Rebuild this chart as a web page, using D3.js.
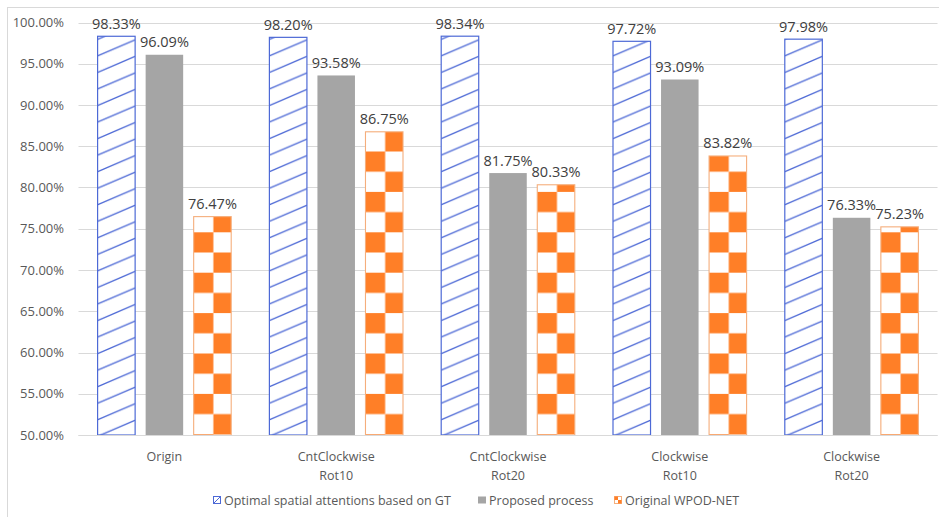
<!DOCTYPE html>
<html>
<head>
<meta charset="utf-8">
<script src="https://cdn.jsdelivr.net/npm/d3@7"></script>
<style>
  html, body { margin: 0; padding: 0; background: #fff; }
  svg { display: block; font-family: "Open Sans", "Noto Sans", sans-serif; }
</style>
</head>
<body>
<svg id="chart" width="939" height="517"></svg>
<script>
// Categories (two-line axis labels) and series
const categories = [
  ["Origin"],
  ["CntClockwise", "Rot10"],
  ["CntClockwise", "Rot20"],
  ["Clockwise", "Rot10"],
  ["Clockwise", "Rot20"]
];
const seriesNames = [
  "Optimal spatial attentions based on GT",
  "Proposed process",
  "Original WPOD-NET"
];
const optimalGT = [0.9833, 0.9820, 0.9834, 0.9772, 0.9798];
const proposed  = [0.9609, 0.9358, 0.8175, 0.9309, 0.7633];
const wpodNet   = [0.7647, 0.8675, 0.8033, 0.8382, 0.7523];
const yTicks = [0.50, 0.55, 0.60, 0.65, 0.70, 0.75, 0.80, 0.85, 0.90, 0.95, 1.00];

const seriesValues = [optimalGT, proposed, wpodNet];

const svg = d3.select("#chart");
const W = 939, H = 517;
const plot = { left: 78.5, right: 937.5, top: 22.5, bottom: 435 };

const BLUE = "#4d69d6", GREY = "#a5a5a5", ORANGE = "#ff7f27", ORANGE_EDGE = "#f5ae7c";
const GRID = "#d9d9d9", TXT = "#595959", LBL = "#404040";

// Outer chart frame
svg.append("rect")
  .attr("x", 7.5).attr("y", 7.5).attr("width", W + 20).attr("height", H + 20)
  .attr("fill", "#fff").attr("stroke", GRID).attr("stroke-width", 1);

const keys = categories.map((c, i) => i);
const x0 = d3.scaleBand().domain(keys).range([plot.left, plot.right]).padding(0);
const groupPad = 18.6;
const x1 = d3.scaleBand().domain([0, 1, 2])
  .range([groupPad, x0.bandwidth() - groupPad])
  .paddingInner(0.198).paddingOuter(0);
const y = d3.scaleLinear().domain([0.5, 1.0]).range([plot.bottom, plot.top]);

// Gridlines
svg.append("g")
  .selectAll("line").data(yTicks).join("line")
  .attr("x1", plot.left).attr("x2", plot.right)
  .attr("y1", d => Math.round(y(d)) + 0.5).attr("y2", d => Math.round(y(d)) + 0.5)
  .attr("stroke", GRID).attr("stroke-width", 1);

// Y axis labels
const yAxis = svg.append("g")
  .attr("transform", `translate(${plot.left - 14.5},0)`)
  .call(d3.axisLeft(y).tickValues(yTicks).tickFormat(d3.format(".2%")).tickSize(0).tickPadding(0));
yAxis.select(".domain").remove();
yAxis.selectAll("text")
  .attr("fill", TXT).style("font-size", "13px")
  .style("font-family", '"Open Sans", sans-serif');

// Flattened bar records
const bars = [];
seriesValues.forEach((vals, s) => vals.forEach((v, c) => bars.push({ s, c, v })));
const barX = d => x0(d.c) + x1(d.s);
const bw = x1.bandwidth();

// Per-bar fill patterns (hatch and checkerboard anchored at each bar's left edge)
const defs = svg.append("defs");
const hatchH = 16.54, hatchY = 205;
const hatch = defs.selectAll("pattern.hatch").data(bars.filter(d => d.s === 0)).join("pattern")
  .attr("class", "hatch")
  .attr("id", d => `hatch-${d.c}`)
  .attr("patternUnits", "userSpaceOnUse")
  .attr("x", d => barX(d)).attr("y", hatchY)
  .attr("width", bw).attr("height", hatchH);
hatch.append("rect").attr("width", bw).attr("height", hatchH).attr("fill", "#fff");
hatch.append("path")
  .attr("d", `M0,${hatchH}L${bw},0M0,${2 * hatchH}L${bw},${hatchH}M0,0L${bw},${-hatchH}`)
  .attr("stroke", BLUE).attr("stroke-width", 1.3).attr("fill", "none");

const cell = 20.2, checkY = 232.3;
const checker = defs.selectAll("pattern.checker").data(bars.filter(d => d.s === 2)).join("pattern")
  .attr("class", "checker")
  .attr("id", d => `checker-${d.c}`)
  .attr("patternUnits", "userSpaceOnUse")
  .attr("x", d => barX(d)).attr("y", checkY)
  .attr("width", 2 * cell).attr("height", 2 * cell);
checker.append("rect").attr("width", 2 * cell).attr("height", 2 * cell).attr("fill", "#fff");
checker.append("rect").attr("x", 0).attr("y", 0).attr("width", cell).attr("height", cell).attr("fill", ORANGE);
checker.append("rect").attr("x", cell).attr("y", cell).attr("width", cell).attr("height", cell).attr("fill", ORANGE);

// Bars
const fillFor = d => d.s === 0 ? `url(#hatch-${d.c})` : d.s === 1 ? GREY : `url(#checker-${d.c})`;
const strokeFor = d => d.s === 0 ? BLUE : d.s === 1 ? "none" : ORANGE_EDGE;
svg.append("g").selectAll("rect").data(bars).join("rect")
  .attr("x", d => barX(d) + 0.5)
  .attr("y", d => y(d.v))
  .attr("width", bw - 1)
  .attr("height", d => y(0.5) - y(d.v))
  .attr("fill", fillFor)
  .attr("stroke", strokeFor)
  .attr("stroke-width", d => d.s === 0 ? 1.2 : 1.1);

// Baseline
svg.append("line")
  .attr("x1", plot.left).attr("x2", plot.right)
  .attr("y1", plot.bottom + 0.5).attr("y2", plot.bottom + 0.5)
  .attr("stroke", GRID);

// Value labels
svg.append("g").selectAll("text").data(bars).join("text")
  .attr("x", d => barX(d) + bw / 2)
  .attr("y", d => y(d.v) - 7.5)
  .attr("text-anchor", "middle")
  .attr("fill", LBL)
  .style("font-size", "14.5px")
  .text(d => d3.format(".2%")(d.v));

// Category labels
const cat = svg.append("g").selectAll("text").data(categories).join("text")
  .attr("x", (d, i) => x0(i) + x0.bandwidth() / 2)
  .attr("y", 461)
  .attr("text-anchor", "middle")
  .attr("fill", TXT)
  .style("font-size", "12.5px");
cat.selectAll("tspan").data(d => d).join("tspan")
  .attr("x", function () { return d3.select(this.parentNode).attr("x"); })
  .attr("dy", (d, i) => i === 0 ? 0 : 18.5)
  .text(d => d);

// Legend
const legendX = [213, 478, 614];
const legendY = 500;
const lg = svg.append("g").selectAll("g").data(seriesNames).join("g")
  .attr("transform", (d, i) => `translate(${legendX[i]},${legendY})`);
lg.each(function (d, i) {
  const g = d3.select(this);
  const s = 7;
  if (i === 0) {
    g.append("rect").attr("x", 0.5).attr("y", -s / 2).attr("width", s).attr("height", s)
      .attr("fill", "#fff").attr("stroke", BLUE).attr("stroke-width", 1);
    g.append("line").attr("x1", 0.5).attr("y1", s / 2).attr("x2", s + 0.5).attr("y2", -s / 2)
      .attr("stroke", BLUE).attr("stroke-width", 1);
  } else if (i === 1) {
    g.append("rect").attr("x", 0).attr("y", -s / 2).attr("width", s + 1).attr("height", s)
      .attr("fill", GREY);
  } else {
    g.append("rect").attr("x", 0.5).attr("y", -s / 2).attr("width", s).attr("height", s)
      .attr("fill", "#fff").attr("stroke", ORANGE_EDGE).attr("stroke-width", 1);
    g.append("rect").attr("x", 0.5).attr("y", -s / 2).attr("width", s / 2).attr("height", s / 2).attr("fill", ORANGE);
    g.append("rect").attr("x", 0.5 + s / 2).attr("y", 0).attr("width", s / 2).attr("height", s / 2).attr("fill", ORANGE);
  }
  g.append("text").attr("x", 11).attr("y", 4.5)
    .attr("fill", TXT).style("font-size", "12.5px").text(d);
});
</script>
</body>
</html>
